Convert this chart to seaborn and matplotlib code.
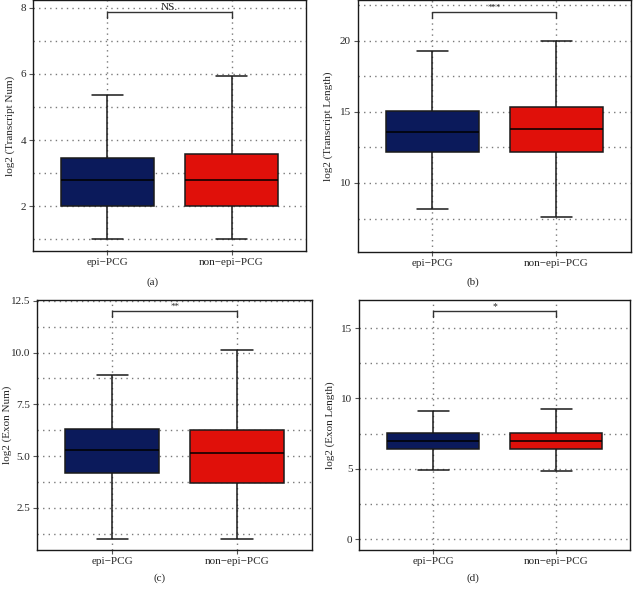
import matplotlib
matplotlib.use("Agg")
import matplotlib.pyplot as plt
import numpy as np
import pandas as pd
import seaborn as sns
from matplotlib.ticker import MultipleLocator

# five-number summaries per group: [min, Q1, median, Q3, max]
groups = ["epi\u2212PCG", "non\u2212epi\u2212PCG"]

transcript_num_epi = [1.0, 2.0, 2.8, 3.45, 5.35]
transcript_num_non = [1.0, 2.0, 2.8, 3.58, 5.95]

transcript_len_epi = [8.15, 12.2, 13.6, 15.08, 19.3]
transcript_len_non = [7.63, 12.2, 13.8, 15.32, 20.0]

exon_num_epi = [1.0, 4.19, 5.29, 6.31, 8.93]
exon_num_non = [1.0, 3.71, 5.13, 6.24, 10.1]

exon_len_epi = [4.88, 6.44, 6.98, 7.55, 9.12]
exon_len_non = [4.84, 6.44, 6.98, 7.55, 9.22]

ylabels = ["log2 (Transcript Num)", "log2 (Transcript Length)",
           "log2 (Exon Num)", "log2 (Exon Length)"]
signif = ["NS.", "***", "**", "*"]
signif_size = [8, 6.5, 6.5, 7]
bracket_y = [7.89, 22.0, 12.0, 16.24]
captions = ["(a)", "(b)", "(c)", "(d)"]

palette = ["#0b1a5b", "#e0100a"]

sns.set_theme(style="white")
plt.rcParams["font.family"] = ["Liberation Serif", "DejaVu Serif"]

W, H = 634, 589
fig = plt.figure(figsize=(W / 100, H / 100), dpi=100)

# axes rectangles in figure fraction
rects = [
    [0.052, 0.5739, 0.4306, 0.4261],
    [0.5642, 0.5722, 0.431, 0.4278],
    [0.0588, 0.0662, 0.4333, 0.425],
    [0.5667, 0.0662, 0.427, 0.4244],
]
ylims = [(0.64, 8.24), (5.15, 22.86), (0.47, 12.55), (-0.78, 17.0)]
majors = [2, 5, 2.5, 5]
tick_drop = [0.18, 0.42, 0.3, 0.43]
# right edge (pixels) of the rotated y label
ylabel_x = [15, 333, 12, 335]
caption_pos = [(153, 282), (473, 282), (160, 578), (473, 578)]

series = [
    (transcript_num_epi, transcript_num_non),
    (transcript_len_epi, transcript_len_non),
    (exon_num_epi, exon_num_non),
    (exon_len_epi, exon_len_non),
]

grid_kw = dict(color="#7a7a7a", linestyle=(0, (1, 3)), linewidth=1.0)

for i, (epi, non) in enumerate(series):
    ax = fig.add_axes(rects[i])
    df = pd.DataFrame({
        "group": [groups[0]] * len(epi) + [groups[1]] * len(non),
        "value": epi + non,
    })
    ax.set_axisbelow(True)

    sns.boxplot(
        data=df, x="group", y="value", hue="group", palette=palette,
        legend=False, width=0.75, whis=(0, 100), linecolor="#1a1a1a",
        linewidth=1.1, saturation=1, capwidths=0.25, ax=ax,
        medianprops={"color": "black", "linewidth": 1.1},
    )

    ax.yaxis.set_major_locator(MultipleLocator(majors[i]))
    ax.yaxis.set_minor_locator(MultipleLocator(majors[i] / 2))
    ax.grid(True, which="major", axis="both", **grid_kw)
    ax.grid(True, which="minor", axis="y", **grid_kw)

    ax.set_xlim(-0.6, 1.6)
    ax.set_ylim(*ylims[i])
    ax.set_xlabel("")
    ax.set_ylabel(ylabels[i], fontsize=8)
    rx = rects[i][0] * W
    ax.yaxis.set_label_coords((ylabel_x[i] - rx) / (rects[i][2] * W), 0.5)
    ax.tick_params(axis="both", which="major", labelsize=8, length=3,
                   width=0.8, color="#555555", pad=2, left=True, bottom=True)
    ax.tick_params(axis="y", which="minor", length=0)
    for sp in ax.spines.values():
        sp.set_color("#1a1a1a")
        sp.set_linewidth(1.0)

    # significance bracket
    y = bracket_y[i]
    d = tick_drop[i]
    ax.plot([0, 0, 1, 1], [y - d, y, y, y - d], color="#333333", lw=1.0,
            clip_on=False)
    ax.text(0.5, y, signif[i], ha="center", va="bottom",
            fontsize=signif_size[i])

    cx, cy = caption_pos[i]
    fig.text(cx / W, 1 - cy / H, captions[i], ha="center", va="center",
             fontsize=8)

fig.savefig("out.png", dpi=100)
